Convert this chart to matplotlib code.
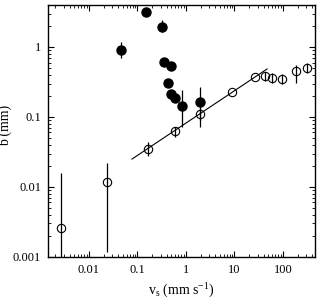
import matplotlib
matplotlib.use("Agg")
import matplotlib.pyplot as plt
from matplotlib.ticker import LogLocator, FixedLocator, FixedFormatter, NullFormatter

plt.rcParams['font.family'] = ['Liberation Serif', 'DejaVu Serif']
plt.rcParams['mathtext.fontset'] = 'custom'
plt.rcParams['mathtext.rm'] = 'Liberation Serif'
plt.rcParams['mathtext.it'] = 'Liberation Serif:italic'

# filled circles
vs_filled = [0.046, 0.15, 0.32, 0.35, 0.49, 0.43, 0.49, 0.59, 0.83, 1.94]
b_filled = [0.91, 3.16, 1.93, 0.61, 0.535, 0.306, 0.213, 0.187, 0.144, 0.164]
b_filled_lo = [0.70, 3.16, 1.64, 0.61, 0.535, 0.306, 0.213, 0.187, 0.072, 0.072]
b_filled_hi = [1.18, 3.16, 2.43, 0.61, 0.535, 0.306, 0.213, 0.187, 0.243, 0.268]

# open circles
vs_open = [0.00265, 0.0235, 0.164, 0.593, 1.94, 8.9, 26.5, 42.6, 59, 95, 185, 313]
b_open = [0.0026, 0.0118, 0.0349, 0.063, 0.110, 0.228, 0.373, 0.385, 0.36, 0.35, 0.45, 0.50]
b_open_lo = [0.0009, 0.00118, 0.028, 0.052, 0.09, 0.228, 0.373, 0.33, 0.31, 0.30, 0.31, 0.425]
b_open_hi = [0.0159, 0.022, 0.044, 0.072, 0.135, 0.228, 0.373, 0.44, 0.42, 0.41, 0.55, 0.59]

# power-law fit line
fit_x = [0.077, 47]
fit_y = [0.025, 0.485]

fig = plt.figure(figsize=(3.22, 3.04), dpi=100)
ax = fig.add_axes([0.149, 0.155, 0.829, 0.829])

err_lo = [b - l for b, l in zip(b_filled, b_filled_lo)]
err_hi = [h - b for b, h in zip(b_filled, b_filled_hi)]
ax.errorbar(vs_filled, b_filled, yerr=[err_lo, err_hi], fmt='o', color='black',
            ms=6.5, elinewidth=0.9, capsize=0, zorder=3)

err_lo = [b - l for b, l in zip(b_open, b_open_lo)]
err_hi = [h - b for b, h in zip(b_open, b_open_hi)]
ax.errorbar(vs_open, b_open, yerr=[err_lo, err_hi], fmt='o', mfc='none', mec='black',
            color='black', ms=6, mew=0.8, elinewidth=0.9, capsize=0, zorder=3)

ax.plot(fit_x, fit_y, color='black', lw=0.8)

ax.set_xscale('log')
ax.set_yscale('log')
ax.set_xlim(0.00143, 455)
ax.set_ylim(0.001, 4)

ax.xaxis.set_major_locator(FixedLocator([0.01, 0.1, 1, 10, 100]))
ax.xaxis.set_major_formatter(FixedFormatter(['0.01', '0.1', '1', '10', '100']))
ax.yaxis.set_major_locator(FixedLocator([0.001, 0.01, 0.1, 1]))
ax.yaxis.set_major_formatter(FixedFormatter(['0.001', '0.01', '0.1', '1']))
for axis in (ax.xaxis, ax.yaxis):
    axis.set_minor_locator(LogLocator(base=10, subs=range(2, 10), numticks=20))
    axis.set_minor_formatter(NullFormatter())

ax.tick_params(which='both', direction='in', top=True, right=True, labelsize=9, pad=5)
ax.tick_params(which='major', length=4, width=0.8)
ax.tick_params(which='minor', length=2, width=0.6)
for s in ax.spines.values():
    s.set_linewidth(1.0)

ax.set_xlabel(r'v$_\mathrm{s}$ (mm s$^{-1}$)', fontsize=10, labelpad=4)
ax.set_ylabel('b (mm)', fontsize=10)
ax.yaxis.set_label_coords(-0.135, 0.52)

fig.savefig('out.png', dpi=100)
